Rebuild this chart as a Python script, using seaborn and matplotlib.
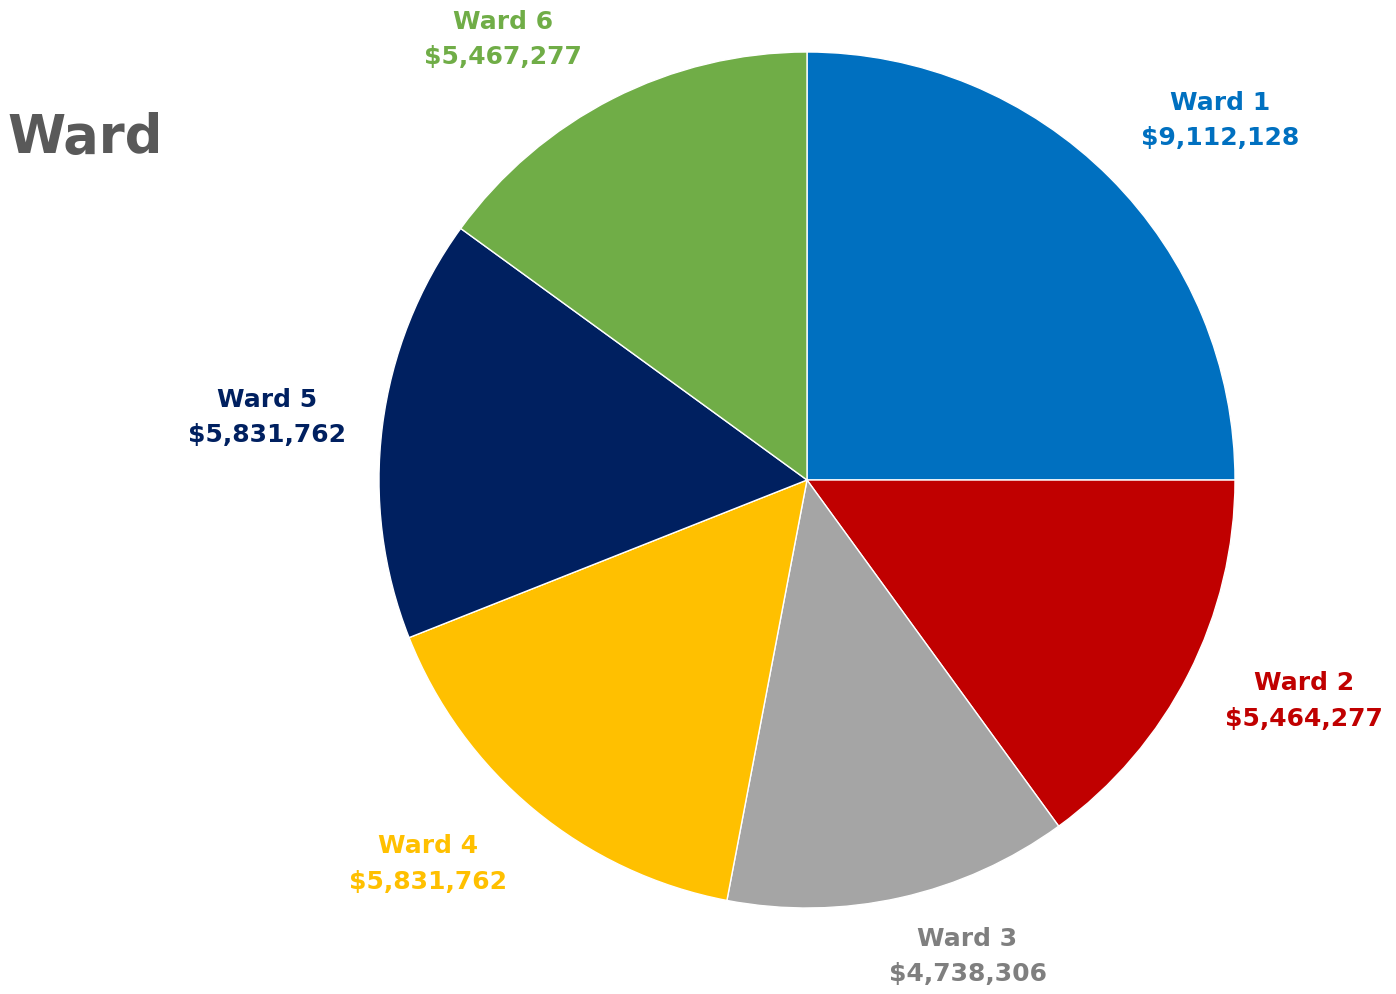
import matplotlib
matplotlib.use("Agg")
import matplotlib.pyplot as plt
import seaborn as sns
import numpy as np

# Ward budget data
wards = ['Ward 1', 'Ward 2', 'Ward 3', 'Ward 4', 'Ward 5', 'Ward 6']
amounts = [9112128, 5464277, 4738306, 5831762, 5831762, 5467277]
colors = ['#0070C0', '#C00000', '#A5A5A5', '#FFC000', '#002060', '#70AD47']
label_colors = ['#0070C0', '#C00000', '#7F7F7F', '#FFC000', '#002060', '#70AD47']

# label placement (radius and angle nudge from the wedge middle)
label_r = [1.28, 1.27, 1.175, 1.26, 1.27, 1.25]
label_nudge = [-4, 3, 6, -5, 0.6, 7.6]

sns.set_theme(style='white')
plt.rcParams['font.family'] = ['DejaVu Sans']

fig = plt.figure(figsize=(13.96, 9.94), dpi=100)
ax = fig.add_axes([379 / 1396, 86 / 994, 856 / 1396, 856 / 994])

wedges, _ = ax.pie(amounts, colors=colors, startangle=90, counterclock=False,
                   wedgeprops=dict(edgecolor='white', linewidth=1))
for w, name, amt, c, r, d in zip(wedges, wards, amounts, label_colors, label_r, label_nudge):
    mid = np.deg2rad((w.theta1 + w.theta2) / 2 + d)
    ax.text(r * np.cos(mid), r * np.sin(mid), f"{name}\n${amt:,}", color=c,
            fontsize=18, fontweight='bold', ha='center', va='center',
            linespacing=1.6, clip_on=False)
ax.set_xlim(-1, 1)
ax.set_ylim(-1, 1)
ax.set_aspect('equal')

fig.text(7 / 1396, 1 - 138 / 994, 'Ward', fontsize=38, fontweight='bold',
         color='#595959', ha='left', va='center')

fig.savefig('out.png', dpi=100)
